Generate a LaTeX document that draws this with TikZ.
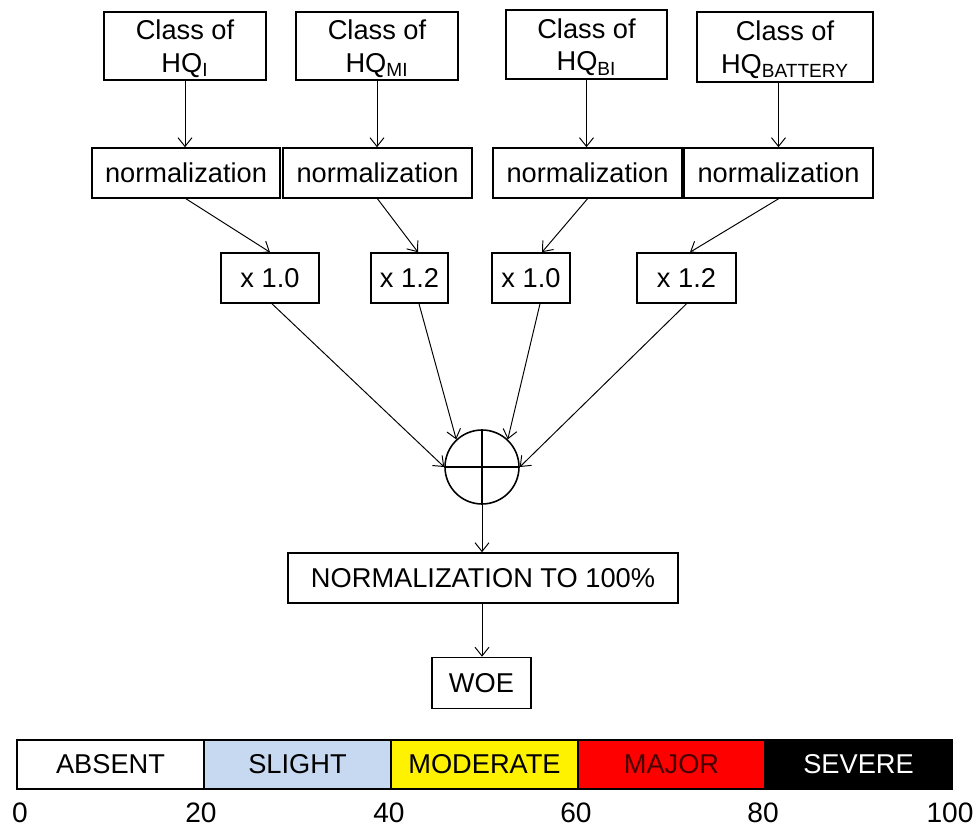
\documentclass[tikz,border=0pt]{standalone}
\usepackage{fontspec}
\setmainfont{Liberation Sans}
\usetikzlibrary{arrows.meta}

\definecolor{slightblue}{RGB}{198,217,240}
\definecolor{majortext}{RGB}{70,0,0}

\tikzset{
	box/.style={shape=rectangle,draw=black,line width=0.9pt,inner sep=2pt,align=center,
		font=\fontsize{15.5}{18.6}\selectfont},
	classbox/.style={box,minimum height=1.36cm,text depth=0pt},
	normbox/.style={box,minimum height=1.0cm},
	band/.style={shape=rectangle,draw=black,line width=0.9pt,minimum width=3.74cm,minimum height=0.98cm,
		font=\fontsize{15.5}{18.6}\selectfont},
	tick/.style={font=\fontsize{16}{19}\selectfont},
	flow/.style={-{Straight Barb[length=5pt,width=8pt]},line width=0.55pt}
}

\begin{document}
\begin{tikzpicture}[x=0.02cm,y=-0.02cm]
	
	\useasboundingbox (0,0) rectangle (978,829);
	
	% classes
	\node[classbox,minimum width=3.24cm] (hqi) at (185, 46)     {Class of\\HQ\textsubscript{I}};
	\node[classbox,minimum width=3.24cm] (hqmi) at (377, 46)    {Class of\\HQ\textsubscript{MI}};
	\node[classbox,minimum width=3.22cm,minimum height=1.38cm] (hqbi) at (586.5, 44.5)  {Class of\\HQ\textsubscript{BI}};
	\node[classbox,minimum width=3.52cm,minimum height=1.40cm] (hqbat) at (785, 47)   {Class of\\HQ\textsubscript{BATTERY}};
	
	% normalization
	\node[normbox,minimum width=3.76cm] (ni) at (186, 173)     {normalization};
	\node[normbox,minimum width=3.78cm] (nmi) at (377.5, 173)  {normalization};
	\node[normbox,minimum width=3.78cm] (nbi) at (587.5, 173)  {normalization};
	\node[normbox,minimum width=3.78cm] (nbat) at (778.5, 173) {normalization};
	
	% weights
	\node[normbox,minimum width=1.96cm] (wi) at (270, 278)     {x 1.0};
	\node[normbox,minimum width=1.54cm] (wmi) at (409.5, 278)  {x 1.2};
	\node[normbox,minimum width=1.56cm] (wbi) at (531, 278)    {x 1.0};
	\node[normbox,minimum width=1.98cm] (wbat) at (686.5, 278) {x 1.2};
	
	% sum
	\node[shape=circle,draw=black,line width=0.9pt,minimum size=1.48cm,inner sep=0pt] (sum) at (482, 467) {};
	\draw[line width=0.9pt] (sum.north) -- (sum.south);
	\draw[line width=0.9pt] (sum.west) -- (sum.east);
	
	\node[normbox,minimum width=7.8cm] (tot) at (483, 578)   {NORMALIZATION TO 100\%};
	\node[normbox,minimum width=1.98cm,minimum height=1.02cm] (woe) at (481.5, 683) {WOE};
	
	\path[flow] (hqi.south) edge (hqi.south |- ni.north);
	\path[flow] (hqmi.south) edge (hqmi.south |- nmi.north);
	\path[flow] (hqbi.south) edge (hqbi.south |- nbi.north);
	\path[flow] (hqbat.south -| nbat.north) edge (nbat.north);
	
	\path[flow] (ni.south) edge (wi.north);
	\path[flow] (nmi.south) edge ([xshift=0.17cm]wmi.north);
	\path[flow] (nbi.south) edge ([xshift=0.22cm]wbi.north);
	\path[flow] (nbat.south) edge ([xshift=0.07cm]wbat.north);
	
	\path[flow] ([xshift=0.04cm]wi.south) edge (sum.west);
	\path[flow] ([xshift=0.19cm]wmi.south) edge (sum.133);
	\path[flow] ([xshift=0.18cm]wbi.south) edge (sum.47);
	\path[flow] (wbat.south) edge (sum.east);
	
	\path[flow] (sum.south) edge (sum.south |- tot.north);
	\path[flow] (sum.south |- tot.south) edge (sum.south |- woe.north);
	
	% scale
	\node[band,fill=white] (absent) at (110.5, 764.5)        {ABSENT};
	\node[band,fill=slightblue] (slight) at (297.5, 764.5)   {SLIGHT};
	\node[band,fill=yellow] (moderate) at (484.5, 764.5)     {MODERATE};
	\node[band,fill=red,text=majortext] (major) at (671.5, 764.5) {MAJOR};
	\node[band,fill=black,text=white] (severe) at (858.5, 764.5)  {SEVERE};
	
	\node[tick] (t0) at (20, 813)   {0};
	\node[tick] (t20) at (201, 813) {20};
	\node[tick] (t40) at (389, 813) {40};
	\node[tick] (t60) at (576, 813) {60};
	\node[tick] (t80) at (763, 813) {80};
	\node[tick] (t100) at (950, 813) {100};
	
	\end{tikzpicture}
\end{document}
